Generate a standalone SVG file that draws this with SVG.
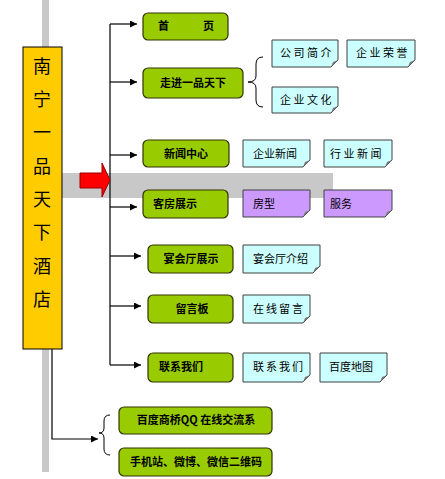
<svg xmlns="http://www.w3.org/2000/svg" width="445" height="479" viewBox="0 0 445 479">
<defs>
<style>
.g{fill:#99cc00;stroke:#333300;stroke-width:1.2}
.c{fill:#ccffff;stroke:#404040;stroke-width:1}
.p{fill:#cc99ff;stroke:#404040;stroke-width:1}
.f{fill:#7a7a7a}
.ln{fill:none;stroke:#000;stroke-width:1.2}
.tb{font-family:"Noto Sans CJK SC","Noto Sans",sans-serif;font-size:11px;font-weight:bold;fill:#000}
.tn{font-family:"Noto Sans CJK SC","Noto Sans",sans-serif;font-size:11px;fill:#000}
.ty{font-family:"Noto Sans CJK SC","Noto Sans",sans-serif;font-size:18px;fill:#000;text-anchor:middle}
</style>
<marker id="ah" viewBox="0 0 10 10" refX="10" refY="5" markerWidth="7" markerHeight="7" markerUnits="userSpaceOnUse" orient="auto">
<path d="M0,0 L10,5 L0,10 z" fill="#000"/>
</marker>
</defs>
<rect width="445" height="479" fill="#fff"/>
<!-- background bars -->
<rect x="42" y="0" width="7" height="48" fill="#c8c8c8"/>
<rect x="42" y="348" width="7" height="124" fill="#c8c8c8"/>
<rect x="62" y="173" width="271" height="25" fill="#c8c8c8"/>

<g id="connectors">
<path class="ln" d="M110,24 V365"/>
<path class="ln" d="M110,24 H137" marker-end="url(#ah)"/>
<path class="ln" d="M110,82 H137" marker-end="url(#ah)"/>
<path class="ln" d="M110,155 H137" marker-end="url(#ah)"/>
<path class="ln" d="M110,207 H137" marker-end="url(#ah)"/>
<path class="ln" d="M110,256 H141" marker-end="url(#ah)"/>
<path class="ln" d="M110,306 H141" marker-end="url(#ah)"/>
<path class="ln" d="M110,365 H141" marker-end="url(#ah)"/>
<path class="ln" d="M52,349 V439 H98" marker-end="url(#ah)"/>
<path fill="none" stroke="#000" stroke-width="1" d="M263,57 Q256,57 256,64 V76 Q256,82 248,82 Q256,82 256,88 V100 Q256,107 263,107"/>
<path fill="none" stroke="#000" stroke-width="1" d="M110,415 Q104,415 104,421 V428 Q104,433 99,433 Q104,433 104,438 V449 Q104,455 110,455"/>
<path fill="#ff0000" stroke="#990000" stroke-width="1" d="M80,173 H102 V163 L110,180 L102,197 V188 H80 Z"/>
</g>

<g id="main">
<rect x="23" y="47" width="39" height="302" fill="#ffcc00" stroke="#000" stroke-width="1"/>
<text class="ty" x="42" y="73">南</text>
<text class="ty" x="42" y="106">宁</text>
<text class="ty" x="42" y="139">一</text>
<text class="ty" x="42" y="173">品</text>
<text class="ty" x="42" y="206">天</text>
<text class="ty" x="42" y="239">下</text>
<text class="ty" x="42" y="273">酒</text>
<text class="ty" x="42" y="306">店</text>
</g>

<g id="n-home"><rect class="g" x="143" y="13" width="85" height="27" rx="5"/><text class="tb" x="158" y="30">首</text><text class="tb" x="203" y="30">页</text></g>
<g id="n-about"><rect class="g" x="143" y="68" width="100" height="30" rx="5"/><text class="tb" x="193" y="87" text-anchor="middle">走进一品天下</text></g>
<g id="n-news"><rect class="g" x="143" y="140" width="86" height="27" rx="5"/><text class="tb" x="186" y="158" text-anchor="middle">新闻中心</text></g>
<g id="n-rooms"><rect class="g" x="143" y="190" width="85" height="28" rx="5"/><text class="tb" x="153" y="208">客房展示</text></g>
<g id="n-hall"><rect class="g" x="148" y="245" width="85" height="28" rx="5"/><text class="tb" x="191" y="263" text-anchor="middle">宴会厅展示</text></g>
<g id="n-board"><rect class="g" x="148" y="295" width="85" height="28" rx="5"/><text class="tb" x="192" y="313" text-anchor="middle">留言板</text></g>
<g id="n-contact"><rect class="g" x="148" y="353" width="85" height="29" rx="5"/><text class="tb" x="159" y="371">联系我们</text></g>
<g id="n-qq"><rect class="g" x="119" y="407" width="153" height="27" rx="5"/><text class="tb" x="196" y="424" text-anchor="middle">百度商桥QQ  在线交流系</text></g>
<g id="n-mobile"><rect class="g" x="119" y="448" width="153" height="28" rx="5"/><text class="tb" x="196" y="466" text-anchor="middle">手机站、微博、微信二维码</text></g>

<g id="s-intro"><path class="c" d="M272,40 H338 V60 L331,67 H272 Z"/><path class="f" d="M338,60 L331,67 L333,62 Z"/><text class="tn" x="280" y="57" letter-spacing="2.5">公司简介</text></g>
<g id="s-honor"><path class="c" d="M347,40 H415 V60 L408,67 H347 Z"/><path class="f" d="M415,60 L408,67 L410,62 Z"/><text class="tn" x="356" y="57" letter-spacing="2.5">企业荣誉</text></g>
<g id="s-culture"><path class="c" d="M272,87 H338 V106 L331,113 H272 Z"/><path class="f" d="M338,106 L331,113 L333,108 Z"/><text class="tn" x="280" y="104" letter-spacing="2.5">企业文化</text></g>
<g id="s-cnews"><path class="c" d="M243,140 H310 V160 L303,167 H243 Z"/><path class="f" d="M310,160 L303,167 L305,162 Z"/><text class="tn" x="253" y="158">企业新闻</text></g>
<g id="s-inews"><path class="c" d="M324,140 H392 V160 L385,167 H324 Z"/><path class="f" d="M392,160 L385,167 L387,162 Z"/><text class="tn" x="330" y="158" letter-spacing="2.5">行业新闻</text></g>
<g id="s-type"><path class="p" d="M243,190 H310 V210 L303,217 H243 Z"/><path class="f" d="M310,210 L303,217 L305,212 Z"/><text class="tn" x="253" y="208">房型</text></g>
<g id="s-service"><path class="p" d="M324,190 H392 V210 L385,217 H324 Z"/><path class="f" d="M392,210 L385,217 L387,212 Z"/><text class="tn" x="330" y="208">服务</text></g>
<g id="s-hall"><path class="c" d="M243,245 H320 V266 L313,273 H243 Z"/><path class="f" d="M320,266 L313,273 L315,268 Z"/><text class="tn" x="253" y="263">宴会厅介绍</text></g>
<g id="s-msg"><path class="c" d="M243,295 H310 V316 L303,323 H243 Z"/><path class="f" d="M310,316 L303,323 L305,318 Z"/><text class="tn" x="253" y="313" letter-spacing="2">在线留言</text></g>
<g id="s-contact"><path class="c" d="M243,353 H310 V375 L303,382 H243 Z"/><path class="f" d="M310,375 L303,382 L305,377 Z"/><text class="tn" x="253" y="371" letter-spacing="2">联系我们</text></g>
<g id="s-map"><path class="c" d="M320,353 H387 V375 L380,382 H320 Z"/><path class="f" d="M387,375 L380,382 L382,377 Z"/><text class="tn" x="329" y="371">百度地图</text></g>
</svg>
